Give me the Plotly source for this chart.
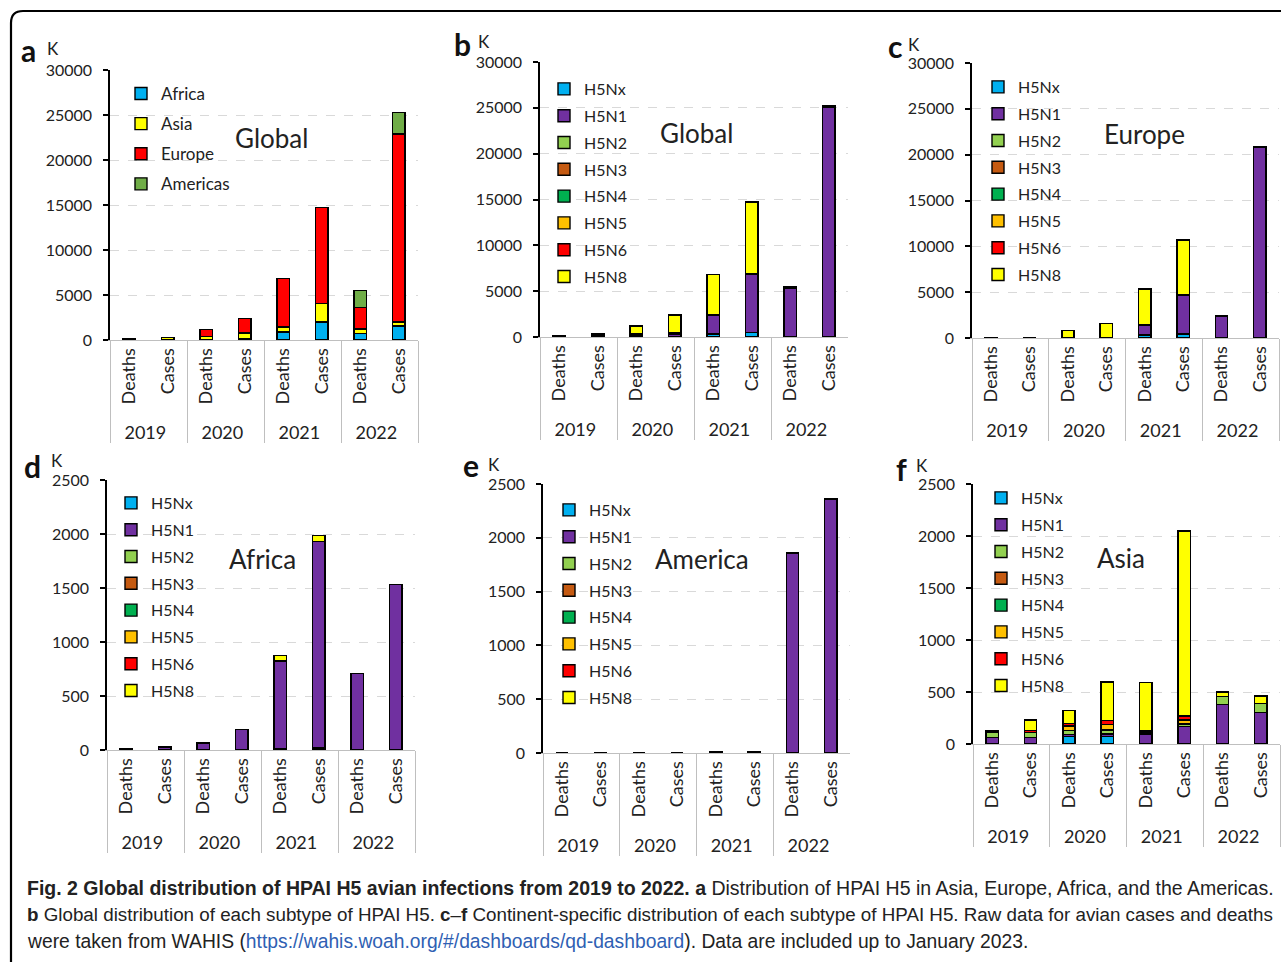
import plotly.graph_objects as go

W, H = 1281, 962
FONT = "Lato, 'Open Sans', sans-serif"
CAPFONT = "'Liberation Sans', Arial, sans-serif"

# ---------------- data ----------------
year_level = ["2019", "2019", "2020", "2020", "2021", "2021", "2022", "2022"]
measure_level = ["Deaths", "Cases", "Deaths", "Cases", "Deaths", "Cases", "Deaths", "Cases"]

# panel a: Global by continent
africa_total = [15, 28, 65, 190, 875, 1984, 710, 1535]
asia_total = [130, 230, 320, 602, 592, 2054, 500, 461]
europe_total = [40, 50, 800, 1600, 5340, 10690, 2410, 20900]
americas_total = [0, 0, 0, 0, 10, 10, 1859, 2360]

subtypes = ["H5Nx", "H5N1", "H5N2", "H5N3", "H5N4", "H5N5", "H5N6", "H5N8"]

# panel b: Global by subtype
global_h5nx = [0, 0, 70, 70, 345, 460, 0, 0]
global_h5n1 = [100, 117, 117, 265, 2006, 6334, 5330, 25049]
global_h5n2 = [45, 48, 35, 32, 15, 26, 74, 86]
global_h5n3 = [10, 0, 0, 10, 0, 0, 0, 0]
global_h5n4 = [0, 0, 0, 0, 0, 0, 0, 0]
global_h5n5 = [0, 0, 65, 48, 5, 38, 30, 50]
global_h5n6 = [10, 15, 28, 42, 10, 38, 0, 0]
global_h5n8 = [20, 128, 870, 1921, 4436, 7835, 45, 70]

# panel c: Europe
europe_h5nx = [0, 0, 0, 0, 330, 440, 0, 0]
europe_h5n1 = [20, 25, 30, 50, 1090, 4250, 2380, 20850]
europe_h5n2 = [0, 0, 0, 0, 0, 0, 0, 0]
europe_h5n3 = [0, 0, 0, 0, 0, 0, 0, 0]
europe_h5n4 = [0, 0, 0, 0, 0, 0, 0, 0]
europe_h5n5 = [0, 0, 20, 0, 0, 0, 30, 50]
europe_h5n6 = [0, 0, 0, 0, 0, 0, 0, 0]
europe_h5n8 = [20, 25, 750, 1550, 3920, 6000, 0, 0]

# panel d: Africa
africa_h5nx = [0, 0, 0, 0, 15, 20, 0, 0]
africa_h5n1 = [15, 28, 65, 190, 810, 1908, 710, 1535]
africa_h5n2 = [0, 0, 0, 0, 0, 0, 0, 0]
africa_h5n3 = [0, 0, 0, 0, 0, 0, 0, 0]
africa_h5n4 = [0, 0, 0, 0, 0, 0, 0, 0]
africa_h5n5 = [0, 0, 0, 0, 0, 0, 0, 0]
africa_h5n6 = [0, 0, 0, 0, 0, 0, 0, 0]
africa_h5n8 = [0, 0, 0, 0, 50, 56, 0, 0]

# panel e: America
america_h5nx = [0, 0, 0, 0, 0, 0, 0, 0]
america_h5n1 = [0, 0, 0, 0, 10, 10, 1859, 2360]
america_h5n2 = [0, 0, 0, 0, 0, 0, 0, 0]
america_h5n3 = [0, 0, 0, 0, 0, 0, 0, 0]
america_h5n4 = [0, 0, 0, 0, 0, 0, 0, 0]
america_h5n5 = [0, 0, 0, 0, 0, 0, 0, 0]
america_h5n6 = [0, 0, 0, 0, 0, 0, 0, 0]
america_h5n8 = [0, 0, 0, 0, 0, 0, 0, 0]

# panel f: Asia
asia_h5nx = [0, 0, 70, 70, 0, 0, 0, 0]
asia_h5n1 = [65, 64, 22, 25, 96, 166, 381, 304]
asia_h5n2 = [45, 48, 35, 32, 15, 26, 74, 86]
asia_h5n3 = [10, 0, 0, 10, 0, 0, 0, 0]
asia_h5n4 = [0, 0, 0, 0, 0, 0, 0, 0]
asia_h5n5 = [0, 0, 45, 48, 5, 38, 0, 0]
asia_h5n6 = [10, 15, 28, 42, 10, 38, 0, 0]
asia_h5n8 = [0, 103, 120, 371, 466, 1779, 45, 70]

continent_names = ["Africa", "Asia", "Europe", "Americas"]
continent_colors = ["#00B0F0", "#FFFF00", "#FF0000", "#70AD47"]
subtype_colors = ["#00B0F0", "#7030A0", "#92D050", "#C55A11", "#00B050", "#FFC000", "#FF0000", "#FFFF00"]

panel_series = [
    [africa_total, asia_total, europe_total, americas_total],
    [global_h5nx, global_h5n1, global_h5n2, global_h5n3, global_h5n4, global_h5n5, global_h5n6, global_h5n8],
    [europe_h5nx, europe_h5n1, europe_h5n2, europe_h5n3, europe_h5n4, europe_h5n5, europe_h5n6, europe_h5n8],
    [africa_h5nx, africa_h5n1, africa_h5n2, africa_h5n3, africa_h5n4, africa_h5n5, africa_h5n6, africa_h5n8],
    [america_h5nx, america_h5n1, america_h5n2, america_h5n3, america_h5n4, america_h5n5, america_h5n6, america_h5n8],
    [asia_h5nx, asia_h5n1, asia_h5n2, asia_h5n3, asia_h5n4, asia_h5n5, asia_h5n6, asia_h5n8],
]
panel_titles = ["Global", "Global", "Europe", "Africa", "America", "Asia"]
panel_letters = ["a", "b", "c", "d", "e", "f"]
panel_ymax = [30000, 30000, 30000, 2500, 2500, 2500]
panel_dtick = [5000, 5000, 5000, 500, 500, 500]

# ---------------- layout geometry (pixels) ----------------
geo = [
    (110, 418, 70, 340),
    (540, 848, 62, 337),
    (972, 1279, 63, 338),
    (107, 415, 480, 750),
    (543, 850, 484, 753),
    (973, 1280, 484, 744),
]
title_pos = [(271, 138), (696, 133), (1144, 134), (262, 559), (702, 559), (1121, 558)]
letter_pos = [(28, 50), (462, 44), (895, 46), (32, 466), (471, 465), (901, 469)]
k_pos = [(53, 49), (484, 42), (914, 44), (57, 460), (494, 464), (922, 465)]
legend_pos = [(146, 93), (569, 89), (1003, 87), (136, 503), (574, 510), (1006, 498)]
legend_font = [17, 16, 16, 16, 16, 16]
legend_gap = [5, 3, 3, 3, 3, 3]


def px(x):
    return x / W


def py(y):
    return 1 - y / H


fig = go.Figure()
layout = {}
annotations = []

for i in range(6):
    n = i + 1
    sfx = "" if n == 1 else str(n)
    names = continent_names if i == 0 else subtypes
    colors = continent_colors if i == 0 else subtype_colors
    for name, vals, col in zip(names, panel_series[i], colors):
        fig.add_trace(go.Bar(
            x=[year_level, measure_level], y=vals, name=name,
            marker=dict(color=col, line=dict(color="black", width=1.4)),
            width=0.32, xaxis="x" + sfx, yaxis="y" + sfx,
            legend="legend" + sfx, legendgroup=f"p{n}_{name}",
        ))
    x0, x1, yt, yb = geo[i]
    layout["xaxis" + sfx] = dict(
        domain=[px(x0), px(x1)], anchor="y" + sfx, type="multicategory",
        showline=True, linecolor="#BFBFBF", linewidth=1,
        showdividers=True, dividercolor="#BFBFBF", dividerwidth=1,
        tickangle=-90, tickfont=dict(size=18, color="#222", family=FONT),
        showgrid=False, zeroline=False, ticks="", automargin=False,
    )
    layout["yaxis" + sfx] = dict(
        domain=[py(yb), py(yt)], anchor="x" + sfx,
        range=[0, panel_ymax[i]], dtick=panel_dtick[i], tickformat="d",
        showline=True, linecolor="black", linewidth=1.5,
        ticks="outside", ticklen=5, tickcolor="black", tickwidth=1.5,
        ticklabelstandoff=8,
        showgrid=True, gridcolor="#D9D9D9", griddash="dash", gridwidth=1.3,
        zeroline=False, tickfont=dict(size=16, color="#222", family=FONT), automargin=False,
    )
    lx, ly = legend_pos[i]
    layout["legend" + sfx] = dict(
        x=px(lx - 25), y=py(ly - 17), xanchor="left", yanchor="top",
        bgcolor="rgba(0,0,0,0)", traceorder="grouped", tracegroupgap=legend_gap[i],
        font=dict(size=legend_font[i], color="#222", family=FONT), itemwidth=30,
    )
    tx, ty = title_pos[i]
    annotations.append(dict(x=px(tx), y=py(ty), xref="paper", yref="paper", text=panel_titles[i],
                            xanchor="center", yanchor="middle",
                            showarrow=False, font=dict(size=26, color="#222", family=FONT)))
    lx2, ly2 = letter_pos[i]
    annotations.append(dict(x=px(lx2), y=py(ly2), xref="paper", yref="paper", text="<b>" + panel_letters[i] + "</b>",
                            xanchor="center", yanchor="middle",
                            showarrow=False, font=dict(size=30, color="#111", family=FONT)))
    kx, ky = k_pos[i]
    annotations.append(dict(x=px(kx), y=py(ky), xref="paper", yref="paper", text="K",
                            xanchor="center", yanchor="middle",
                            showarrow=False, font=dict(size=17, color="#222", family=FONT)))

cap_lines = [
    "<b>Fig. 2 Global distribution of HPAI H5 avian infections from 2019 to 2022. a</b> Distribution of HPAI H5 in Asia, Europe, Africa, and the Americas.",
    "<b>b</b> Global distribution of each subtype of HPAI H5. <b>c</b>–<b>f</b> Continent-specific distribution of each subtype of HPAI H5. Raw data for avian cases and deaths",
    "were taken from WAHIS (<span style='color:#2F5FB3'>https://wahis.woah.org/#/dashboards/qd-dashboard</span>). Data are included up to January 2023.",
]
cap_y = [888, 914, 941]
cap_size = [19.5, 18.8, 19.3]
for t, yy, sz in zip(cap_lines, cap_y, cap_size):
    annotations.append(dict(x=px(25), y=py(yy), xref="paper", yref="paper", text=t,
                            xanchor="left", yanchor="middle",
                            showarrow=False, font=dict(size=sz, color="#222", family=CAPFONT)))

r = 12
border = dict(type="path", xref="paper", yref="paper",
              path=f"M {px(11)},{py(975)} L {px(11)},{py(11 + r)} Q {px(11)},{py(11)} {px(11 + r)},{py(11)} L {px(1300)},{py(11)}",
              line=dict(color="black", width=2.2))

fig.update_layout(
    width=W, height=H, margin=dict(l=0, r=0, t=0, b=0, pad=0, autoexpand=False),
    paper_bgcolor="white", plot_bgcolor="white", barmode="stack",
    annotations=annotations, shapes=[border], showlegend=True,
    font=dict(family=FONT, color="#222"),
    **layout,
)
fig.write_html("out.html", config={"displayModeBar": False},
               post_script="document.body.style.margin='0px';document.body.style.overflow='hidden';")
